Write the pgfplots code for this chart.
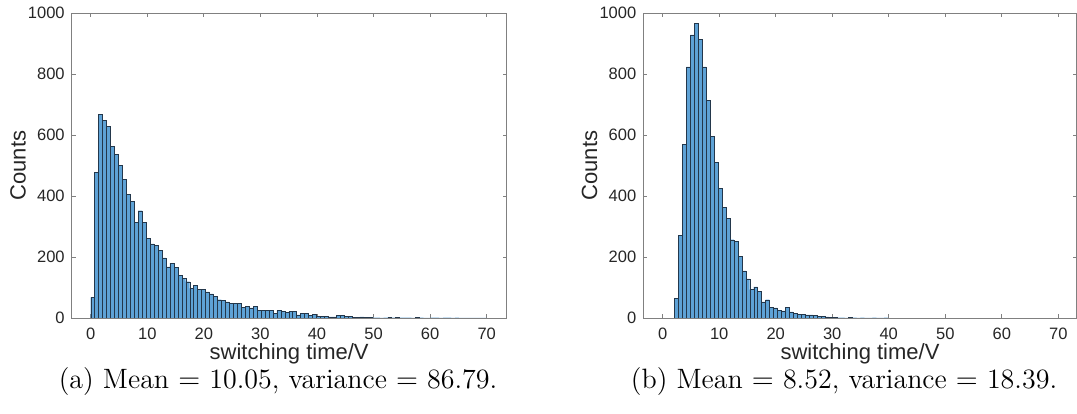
\documentclass[border=0pt]{standalone}
\usepackage{fontspec}
\usepackage{pgfplots}
\pgfplotsset{compat=1.18}
\newfontfamily\hv{Liberation Sans}
\definecolor{barfill}{RGB}{94,162,214}
\definecolor{baredge}{RGB}{35,55,75}
\definecolor{axgray}{RGB}{128,128,128}
\definecolor{txt}{RGB}{38,38,38}
\pgfplotsset{
  histo/.style={
    scale only axis,
    width=217.5pt, height=152.35pt,
    ymin=0, ymax=1000,
    xtick={0,10,...,70},
    ytick={0,200,...,1000},
    tick align=inside,
    major tick length=2pt,
    axis line style={axgray, line width=0.45pt},
    every tick/.style={axgray, line width=0.45pt},
    /pgf/number format/assume math mode=true,
    /pgf/number format/set thousands separator={},
    tick label style={font=\hv\fontsize{8.25}{10}\selectfont, text=txt},
    xticklabel style={yshift=-1.5pt},
    label style={font=\hv\fontsize{11}{13}\selectfont, text=txt},
    xlabel={switching time/V},
    ylabel={Counts},
    xlabel style={at={(axis description cs:0.5,0)}, anchor=base, yshift=-20.5pt},
    ylabel style={at={(axis description cs:0,0.5)}, anchor=center, yshift=26.85pt},
  },
  bars/.style={ybar interval, fill=barfill, draw=baredge, line width=0.17pt, mark=none},
}
\begin{document}
\begin{tikzpicture}
\useasboundingbox (0,0) rectangle (538.5pt,206.5pt);
\begin{axis}[histo, at={(35.85pt,47.5pt)}, anchor=south west, xmin=-3.36, xmax=73.54]
\addplot[bars] coordinates {
(0.0,68) (0.7,478) (1.4,669) (2.1,648) (2.8,628) (3.5,564) (4.2,538) (4.9,502) (5.6,456) (6.3,405)
(7.0,382) (7.7,313) (8.4,352) (9.1,315) (9.8,262) (10.5,243) (11.2,239) (11.9,221) (12.6,197) (13.3,168)
(14.0,180) (14.7,166) (15.4,140) (16.1,131) (16.8,119) (17.5,97) (18.2,107) (18.9,95) (19.6,93) (20.3,86)
(21.0,79) (21.7,70) (22.4,60) (23.1,59) (23.8,53) (24.5,49) (25.2,49) (25.9,48) (26.6,35) (27.3,39)
(28.0,33) (28.7,38) (29.4,26) (30.1,26) (30.8,26) (31.5,26) (32.2,15) (32.9,25) (33.6,21) (34.3,18)
(35.0,21) (35.7,22) (36.4,10) (37.1,15) (37.8,15) (38.5,8) (39.2,11) (39.9,6) (40.6,6) (41.3,5)
(42.0,4) (42.7,4) (43.4,9) (44.1,8) (44.8,5) (45.5,5) (46.2,3) (46.9,3) (47.6,4) (48.3,3)
(49.0,2) (49.7,1) (50.4,1) (51.1,0) (51.8,1) (52.5,2) (53.2,1) (53.9,3) (54.6,1) (55.3,1)
(56.0,1) (56.7,0) (57.4,3) (58.1,1) (58.8,0) (59.5,0) (60.2,1) (60.9,1) (61.6,0) (62.3,1)
(63.0,1) (63.7,0) (64.4,1) (65.1,0) (65.8,0) (66.5,0) (67.2,0) (67.9,0) (68.6,0) (69.3,0)
(70.0,0)
};
\end{axis}
\begin{axis}[histo, at={(321.65pt,47.5pt)}, anchor=south west, xmin=-3.43, xmax=73.26, width=216.7pt]
\addplot[bars] coordinates {
(2.1,65) (2.8,272) (3.5,569) (4.2,824) (4.9,929) (5.6,968) (6.3,915) (7.0,824) (7.7,715) (8.4,597)
(9.1,511) (9.8,426) (10.5,364) (11.2,328) (11.9,257) (12.6,251) (13.3,203) (14.0,155) (14.7,128) (15.4,93)
(16.1,102) (16.8,88) (17.5,53) (18.2,60) (18.9,34) (19.6,33) (20.3,26) (21.0,23) (21.7,36) (22.4,20)
(23.1,15) (23.8,13) (24.5,11) (25.2,10) (25.9,10) (26.6,8) (27.3,6) (28.0,5) (28.7,4) (29.4,3)
(30.1,2) (30.8,1) (31.5,1) (32.2,0) (32.9,2) (33.6,1) (34.3,0) (35.0,1) (35.7,0) (36.4,0)
(37.1,1) (37.8,0) (38.5,0) (39.2,1) (39.9,0)
};
\end{axis}
\node[anchor=base, font=\fontsize{14}{17}\selectfont] at (139pt,12.5pt) {(a) Mean $=$ 10.05, variance $=$ 86.79.};
\node[anchor=base, font=\fontsize{14}{17}\selectfont] at (422pt,12.5pt) {(b) Mean $=$ 8.52, variance $=$ 18.39.};
\end{tikzpicture}
\end{document}
